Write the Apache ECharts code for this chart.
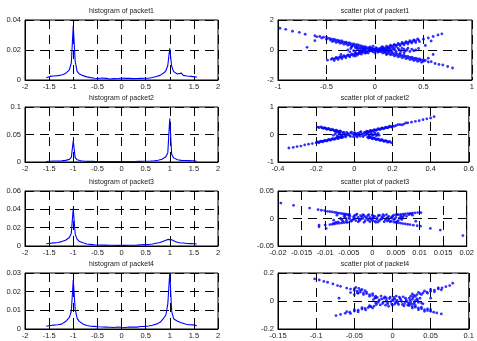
<!DOCTYPE html>
<html>
<head>
<meta charset="utf-8">
<script src="https://cdn.jsdelivr.net/npm/echarts@6/dist/echarts.min.js"></script>
<style>
html, body { margin: 0; padding: 0; background: #fff; }
#chart { width: 477px; height: 341px; }
</style>
</head>
<body>
<div id="chart"></div>
<script>
// bin centres shared by the four histograms
var bins = [
  -1.56, -1.52, -1.48, -1.44, -1.40, -1.36, -1.32, -1.28, -1.24, -1.20,
  -1.16, -1.12, -1.08, -1.04, -1.00, -0.96, -0.92, -0.88, -0.84, -0.80,
  -0.76, -0.72, -0.68, -0.64, -0.60, -0.56, -0.52, -0.48, -0.44, -0.40,
  -0.36, -0.32, -0.28, -0.24, -0.20, -0.16, -0.12, -0.08, -0.04, 0,
  0.04, 0.08, 0.12, 0.16, 0.20, 0.24, 0.28, 0.32, 0.36, 0.40,
  0.44, 0.48, 0.52, 0.56, 0.60, 0.64, 0.68, 0.72, 0.76, 0.80,
  0.84, 0.88, 0.92, 0.96, 1.00, 1.04, 1.08, 1.12, 1.16, 1.20,
  1.24, 1.28, 1.32, 1.36, 1.40, 1.44, 1.48, 1.52, 1.56
]

var hist1 = [
  0.0015, 0.0028, 0.0024, 0.0031, 0.0027, 0.0035, 0.0029, 0.0038, 0.0033, 0.0041,
  0.0044, 0.0052, 0.0068, 0.0115, 0.0362, 0.0125, 0.0058, 0.0042, 0.0034, 0.0029,
  0.0023, 0.0021, 0.0017, 0.0016, 0.0013, 0.0012, 0.0014, 0.0010, 0.0011, 0.0013,
  0.0009, 0.0011, 0.0010, 0.0007, 0.0010, 0.0009, 0.0012, 0.0008, 0.0010, 0.0013,
  0.0009, 0.0011, 0.0008, 0.0012, 0.0010, 0.0009, 0.0011, 0.0010, 0.0012, 0.0011,
  0.0013, 0.0012, 0.0014, 0.0012, 0.0016, 0.0017, 0.0020, 0.0023, 0.0027, 0.0031,
  0.0039, 0.0048, 0.0062, 0.0098, 0.0212, 0.0092, 0.0056, 0.0044, 0.0040, 0.0034,
  0.0046, 0.0031, 0.0033, 0.0027, 0.0030, 0.0024, 0.0027, 0.0021, 0.0019
]
var hist2 = [
  0.0010, 0.0018, 0.0015, 0.0020, 0.0017, 0.0022, 0.0019, 0.0024, 0.0021, 0.0027,
  0.0030, 0.0036, 0.0048, 0.0085, 0.0385, 0.0080, 0.0040, 0.0028, 0.0022, 0.0018,
  0.0015, 0.0013, 0.0012, 0.0010, 0.0011, 0.0009, 0.0010, 0.0008, 0.0009, 0.0010,
  0.0008, 0.0009, 0.0007, 0.0008, 0.0009, 0.0007, 0.0010, 0.0008, 0.0009, 0.0010,
  0.0008, 0.0009, 0.0010, 0.0008, 0.0009, 0.0011, 0.0009, 0.0010, 0.0012, 0.0011,
  0.0013, 0.0012, 0.0015, 0.0016, 0.0018, 0.0021, 0.0024, 0.0028, 0.0033, 0.0040,
  0.0050, 0.0065, 0.0095, 0.0170, 0.0790, 0.0140, 0.0075, 0.0050, 0.0040, 0.0034,
  0.0030, 0.0026, 0.0028, 0.0023, 0.0025, 0.0021, 0.0022, 0.0019, 0.0015
]
var hist3 = [
  0.0025, 0.0033, 0.0030, 0.0036, 0.0034, 0.0040, 0.0038, 0.0045, 0.0048, 0.0055,
  0.0062, 0.0072, 0.0092, 0.0140, 0.0410, 0.0130, 0.0075, 0.0052, 0.0042, 0.0035,
  0.0026, 0.0022, 0.0020, 0.0018, 0.0015, 0.0014, 0.0013, 0.0011, 0.0012, 0.0010,
  0.0009, 0.0010, 0.0008, 0.0009, 0.0007, 0.0008, 0.0009, 0.0007, 0.0008, 0.0009,
  0.0008, 0.0007, 0.0009, 0.0008, 0.0010, 0.0009, 0.0011, 0.0010, 0.0012, 0.0013,
  0.0012, 0.0015, 0.0017, 0.0016, 0.0020, 0.0022, 0.0026, 0.0030, 0.0034, 0.0038,
  0.0045, 0.0055, 0.0060, 0.0072, 0.0092, 0.0068, 0.0055, 0.0046, 0.0040, 0.0036,
  0.0038, 0.0032, 0.0030, 0.0028, 0.0031, 0.0026, 0.0028, 0.0024, 0.0022
]
var hist4 = [
  0.0015, 0.0022, 0.0019, 0.0024, 0.0021, 0.0025, 0.0023, 0.0028, 0.0026, 0.0033,
  0.0040, 0.0050, 0.0062, 0.0095, 0.0262, 0.0105, 0.0058, 0.0042, 0.0033, 0.0027,
  0.0022, 0.0019, 0.0017, 0.0015, 0.0013, 0.0014, 0.0011, 0.0012, 0.0010, 0.0011,
  0.0009, 0.0010, 0.0008, 0.0009, 0.0010, 0.0008, 0.0009, 0.0011, 0.0008, 0.0009,
  0.0010, 0.0008, 0.0009, 0.0011, 0.0009, 0.0010, 0.0012, 0.0010, 0.0011, 0.0013,
  0.0012, 0.0014, 0.0013, 0.0016, 0.0018, 0.0020, 0.0023, 0.0026, 0.0030, 0.0036,
  0.0045, 0.0060, 0.0075, 0.0135, 0.0300, 0.0095, 0.0055, 0.0048, 0.0042, 0.0038,
  0.0034, 0.0030, 0.0027, 0.0025, 0.0023, 0.0021, 0.0022, 0.0019, 0.0018
]

// scatter points [x, y] of each packet
var scatter1 = [
  [-0.98, 1.45], [-0.92, 1.38], [-0.85, 1.25], [-0.78, 1.18], [-0.72, 1.05], [-0.62, 0.95],
  [-0.6, 0.88], [-0.57, 0.9], [-0.55, 0.8], [-0.53, 0.85], [-0.5, 0.72], [-0.48, 0.78],
  [-0.46, 0.66], [-0.44, 0.7], [-0.42, 0.6], [-0.4, 0.65], [-0.38, 0.55], [-0.36, 0.6],
  [-0.34, 0.48], [-0.32, 0.52], [-0.3, 0.42], [-0.28, 0.47], [-0.26, 0.36], [-0.24, 0.4],
  [-0.22, 0.3], [-0.2, 0.35], [-0.18, 0.25], [-0.16, 0.3], [-0.14, 0.18], [-0.12, 0.22],
  [-0.1, 0.12], [-0.08, 0.16], [-0.06, 0.06], [-0.04, 0.1], [-0.02, 0.02], [0.02, -0.05],
  [0.04, -0.02], [0.06, -0.12], [0.08, -0.08], [0.1, -0.18], [0.12, -0.13], [0.14, -0.24],
  [0.16, -0.2], [0.18, -0.3], [0.2, -0.25], [0.22, -0.36], [0.24, -0.31], [0.26, -0.42],
  [0.28, -0.37], [0.3, -0.47], [0.32, -0.42], [0.34, -0.54], [0.36, -0.49], [0.38, -0.6],
  [0.4, -0.55], [0.42, -0.66], [0.44, -0.6], [0.46, -0.7], [0.48, -0.66], [0.5, -0.76],
  [0.52, -0.7], [0.55, -0.8], [0.58, -0.78], [0.62, -0.9], [0.66, -0.96], [0.7, -1.0],
  [0.75, -1.1], [0.8, -1.2],
  [-0.5, 0.86], [-0.46, 0.76], [-0.42, 0.72], [-0.38, 0.64], [-0.34, 0.6], [-0.3, 0.52],
  [-0.26, 0.47], [-0.22, 0.4], [-0.18, 0.35], [-0.14, 0.28], [-0.1, 0.22], [-0.06, 0.16],
  [0.06, -0.02], [0.1, -0.06], [0.14, -0.12], [0.18, -0.18], [0.22, -0.24], [0.26, -0.3],
  [0.3, -0.36], [0.34, -0.42], [0.38, -0.48], [0.42, -0.54], [0.46, -0.6], [0.5, -0.66],
  [-0.44, 0.56], [-0.4, 0.5], [-0.36, 0.45], [-0.32, 0.38], [-0.28, 0.32], [-0.24, 0.26],
  [-0.2, 0.2], [-0.16, 0.14], [-0.12, 0.08], [0.08, -0.2], [0.12, -0.27], [0.16, -0.33],
  [0.2, -0.4], [0.24, -0.46], [0.28, -0.52], [0.32, -0.58], [0.36, -0.64], [0.4, -0.7],
  [0.44, -0.76], [0.48, -0.82],
  [-0.49, -0.68], [-0.45, -0.62], [-0.42, -0.6], [-0.4, -0.55], [-0.38, -0.52], [-0.36, -0.5],
  [-0.34, -0.46], [-0.32, -0.44], [-0.3, -0.42], [-0.28, -0.38], [-0.26, -0.36], [-0.24, -0.32],
  [-0.22, -0.3], [-0.2, -0.27], [-0.18, -0.24], [-0.16, -0.22], [-0.14, -0.18], [-0.12, -0.16],
  [-0.1, -0.12], [-0.08, -0.1], [-0.06, -0.06], [-0.04, -0.05], [0.04, 0.06], [0.06, 0.08],
  [0.08, 0.12], [0.1, 0.14], [0.12, 0.18], [0.14, 0.2], [0.16, 0.24], [0.18, 0.27],
  [0.2, 0.3], [0.22, 0.32], [0.24, 0.36], [0.26, 0.38], [0.28, 0.42], [0.3, 0.44],
  [0.32, 0.48], [0.34, 0.5], [0.36, 0.54], [0.38, 0.56], [0.4, 0.6], [0.42, 0.62],
  [0.45, 0.66], [0.5, 0.72], [0.55, 0.8], [0.6, 0.9], [0.65, 1.0], [0.69, 1.08],
  [-0.44, -0.56], [-0.4, -0.5], [-0.36, -0.44], [-0.32, -0.38], [-0.28, -0.32], [-0.24, -0.26],
  [-0.2, -0.2], [-0.16, -0.14], [-0.12, -0.08], [0.08, 0.2], [0.12, 0.26], [0.16, 0.32],
  [0.2, 0.38], [0.24, 0.44], [0.28, 0.5], [0.32, 0.56], [0.36, 0.62], [0.4, 0.68], [0.44, 0.74],
  [-0.42, -0.7], [-0.38, -0.64], [-0.34, -0.58], [-0.3, -0.52], [-0.26, -0.46], [-0.22, -0.4],
  [-0.18, -0.34], [-0.14, -0.28], [-0.1, -0.22], [0.1, 0.06], [0.14, 0.12], [0.18, 0.18],
  [0.22, 0.22], [0.26, 0.28], [0.3, 0.34], [0.34, 0.4], [0.38, 0.46], [0.42, 0.5], [0.46, 0.56],
  [-0.25, 0.1], [-0.22, -0.05], [-0.2, 0.15], [-0.18, 0.02], [-0.16, -0.12], [-0.15, 0.08],
  [-0.13, -0.03], [-0.12, 0.12], [-0.1, 0.0], [-0.09, -0.15], [-0.08, 0.06], [-0.06, -0.08],
  [-0.05, 0.2], [-0.04, -0.02], [-0.03, 0.1], [-0.02, -0.12], [0, 0.05], [0, -0.05],
  [0.01, 0.15], [0.02, 0.0], [0.03, -0.15], [0.05, 0.1], [0.06, -0.03], [0.07, 0.2],
  [0.09, 0.02], [0.1, -0.1], [0.12, 0.08], [0.13, -0.02], [0.15, 0.12], [0.17, -0.08],
  [0.19, 0.05], [0.21, -0.03], [0.24, 0.1], [0.27, -0.05], [0.3, 0.05], [0.33, 0.0],
  [0.36, -0.1], [0.38, 0.05],
  [-0.28, 0.0], [-0.26, -0.12], [-0.24, 0.2], [-0.2, -0.18], [-0.18, 0.12], [-0.14, -0.06],
  [-0.11, 0.05], [-0.07, -0.2], [-0.05, 0.0], [-0.03, -0.06], [-0.01, 0.08], [0.0, -0.2],
  [0.02, 0.1], [0.04, -0.1], [0.08, 0.05], [0.11, 0.0], [0.14, -0.05], [0.16, 0.05],
  [0.2, 0.1], [0.22, -0.12], [0.25, 0.0], [0.28, 0.12], [0.31, -0.08], [0.34, 0.12],
  [0.4, -0.05], [0.42, 0.0], [0.26, -0.2], [-0.17, -0.25], [-0.02, 0.25], [0.12, -0.3],
  [-0.7, 0.18], [-0.62, 0.62], [-0.35, -0.3], [0.45, 0.1], [0.55, -0.55], [0.6, -0.3],
  [0.58, 0.6], [-0.2, -0.4], [0.3, -0.2], [0.52, 0.3]
]
var scatter2 = [
  [-0.343, -0.49], [-0.32, -0.47], [-0.3, -0.44], [-0.28, -0.42], [-0.26, -0.38], [-0.24, -0.35],
  [-0.22, -0.33], [-0.2, -0.3], [-0.19, -0.28], [-0.18, -0.26], [-0.17, -0.25], [-0.16, -0.24],
  [-0.15, -0.22], [-0.14, -0.21], [-0.13, -0.19], [-0.12, -0.18], [-0.11, -0.16], [-0.1, -0.15],
  [-0.09, -0.13], [-0.08, -0.12], [-0.07, -0.1], [-0.06, -0.09], [0.06, 0.09], [0.07, 0.1],
  [0.08, 0.12], [0.09, 0.13], [0.1, 0.15], [0.11, 0.16], [0.12, 0.18], [0.13, 0.19],
  [0.14, 0.21], [0.15, 0.22], [0.16, 0.24], [0.17, 0.25], [0.18, 0.27], [0.19, 0.28],
  [0.2, 0.3], [0.22, 0.33], [0.24, 0.36], [0.26, 0.38], [0.28, 0.42], [0.3, 0.45],
  [0.32, 0.48], [0.34, 0.5], [0.36, 0.54], [0.38, 0.57], [0.4, 0.6], [0.418, 0.65],
  [-0.195, -0.27], [-0.185, -0.3], [-0.175, -0.24], [-0.165, -0.27], [-0.155, -0.21], [-0.145, -0.24],
  [-0.135, -0.18], [-0.125, -0.21], [-0.115, -0.15], [-0.105, -0.18], [-0.095, -0.12], [-0.085, -0.15],
  [-0.075, -0.09], [-0.065, -0.12], [0.065, 0.12], [0.075, 0.09], [0.085, 0.15], [0.095, 0.12],
  [0.105, 0.18], [0.115, 0.15], [0.125, 0.21], [0.135, 0.18], [0.145, 0.24], [0.155, 0.21],
  [0.165, 0.27], [0.175, 0.24], [0.185, 0.3], [0.195, 0.27], [0.21, 0.3], [0.23, 0.36],
  [0.25, 0.35], [0.27, 0.42],
  [-0.19, 0.27], [-0.17, 0.25], [-0.16, 0.23], [-0.15, 0.22], [-0.14, 0.2], [-0.13, 0.19],
  [-0.12, 0.17], [-0.11, 0.16], [-0.1, 0.14], [-0.09, 0.13], [-0.08, 0.11], [-0.07, 0.1],
  [0.07, -0.1], [0.08, -0.11], [0.09, -0.13], [0.1, -0.14], [0.11, -0.16], [0.12, -0.17],
  [0.13, -0.19], [0.14, -0.2], [0.15, -0.22], [0.16, -0.23], [0.17, -0.25], [0.18, -0.27],
  [0.194, -0.3],
  [-0.185, 0.25], [-0.175, 0.28], [-0.165, 0.23], [-0.155, 0.25], [-0.145, 0.19], [-0.135, 0.22],
  [-0.125, 0.16], [-0.115, 0.19], [-0.105, 0.13], [-0.095, 0.16], [-0.085, 0.1], [-0.075, 0.13],
  [0.075, -0.13], [0.085, -0.1], [0.095, -0.16], [0.105, -0.13], [0.115, -0.19], [0.125, -0.16],
  [0.135, -0.22], [0.145, -0.19], [0.155, -0.25], [0.165, -0.22], [0.175, -0.28], [0.185, -0.25],
  [-0.1, 0.02], [-0.09, -0.05], [-0.08, 0.05], [-0.07, -0.02], [-0.06, 0.06], [-0.05, -0.06],
  [-0.05, 0.02], [-0.04, 0.08], [-0.04, -0.03], [-0.03, 0.0], [-0.02, 0.06], [-0.02, -0.07],
  [-0.01, 0.03], [0, -0.02], [0, 0.07], [0.01, -0.05], [0.01, 0.02], [0.02, 0.05],
  [0.02, -0.02], [0.03, 0.08], [0.03, -0.06], [0.04, 0.01], [0.05, -0.04], [0.05, 0.05],
  [0.06, -0.01], [0.07, 0.04], [0.08, -0.05], [0.09, 0.02], [0.1, -0.02], [0.11, 0.03],
  [0.12, -0.01],
  [-0.11, -0.03], [-0.095, 0.08], [-0.085, -0.08], [-0.075, 0.02], [-0.065, -0.05], [-0.055, 0.09],
  [-0.045, -0.09], [-0.035, 0.04], [-0.025, -0.04], [-0.015, 0.09], [-0.005, -0.08], [0.005, 0.05],
  [0.015, -0.09], [0.025, 0.0], [0.035, 0.1], [0.045, -0.08], [0.055, 0.08], [0.065, 0.02],
  [0.075, -0.07], [0.085, 0.06], [0.095, -0.04], [0.105, 0.07], [0.115, -0.05], [0.125, 0.04],
  [0.13, -0.03]
]
var scatter3 = [
  [-0.0194, 0.028], [-0.0167, 0.024], [-0.0133, 0.019], [-0.0115, 0.016], [-0.0108, 0.015],
  [-0.0101, 0.0145], [-0.0095, 0.013], [-0.009, 0.0125], [-0.0085, 0.012], [-0.008, 0.0112],
  [-0.0076, 0.0105], [-0.0072, 0.0098], [-0.0068, 0.0094], [-0.0064, 0.0088], [-0.006, 0.0082],
  [-0.0056, 0.0078], [-0.0052, 0.0072], [-0.0048, 0.0068],
  [0.0046, -0.0066], [0.005, -0.0072], [0.0055, -0.0078], [0.006, -0.0085], [0.0065, -0.0092],
  [0.007, -0.0098], [0.0075, -0.0105], [0.008, -0.011], [0.0087, -0.0122], [0.0095, -0.0132],
  [0.0102, -0.014], [0.0123, -0.018], [0.0144, -0.021], [0.0192, -0.031],
  [-0.0113, -0.015], [-0.0113, -0.012], [-0.01, -0.012], [-0.009, -0.011], [-0.0085, -0.0105],
  [-0.008, -0.0098], [-0.0075, -0.009], [-0.007, -0.0088], [-0.0065, -0.008], [-0.006, -0.0075],
  [-0.0055, -0.0068],
  [0.005, 0.0068], [0.0055, 0.0072], [0.006, 0.0075], [0.0065, 0.008], [0.007, 0.0085],
  [0.0075, 0.009], [0.008, 0.0095], [0.0085, 0.0098], [0.009, 0.0102], [0.0096, 0.0108],
  [0.0103, 0.0105],
  [-0.006, 0.004], [-0.0055, -0.003], [-0.005, 0.006], [-0.005, 0.001], [-0.0045, -0.005],
  [-0.004, 0.003], [-0.004, -0.001], [-0.0035, 0.006], [-0.0035, -0.004], [-0.003, 0.002],
  [-0.003, -0.006], [-0.0025, 0.005], [-0.0025, -0.002], [-0.002, 0.0], [-0.002, 0.007],
  [-0.0015, -0.004], [-0.0015, 0.003], [-0.001, -0.001], [-0.001, 0.005], [-0.0005, -0.006],
  [-0.0005, 0.002], [0, 0.0], [0, 0.006], [0, -0.003], [0.0005, 0.004], [0.0005, -0.005],
  [0.001, 0.001], [0.001, -0.002], [0.0015, 0.006], [0.0015, -0.004], [0.002, 0.003],
  [0.002, -0.001], [0.0025, 0.005], [0.0025, -0.006], [0.003, 0.0], [0.003, 0.007],
  [0.0035, -0.003], [0.0035, 0.004], [0.004, 0.001], [0.004, -0.005], [0.0045, 0.006],
  [0.0045, -0.002], [0.005, 0.002], [0.0055, -0.004], [0.006, 0.005], [0.006, 0.0],
  [0.0065, 0.003], [-0.0065, -0.002],
  [-0.00675, 0.0], [-0.00625, -0.005], [-0.00575, 0.002], [-0.00525, -0.007], [-0.00475, 0.004],
  [-0.00425, -0.003], [-0.00375, 0.0], [-0.00325, 0.008], [-0.00275, -0.004], [-0.00225, 0.003],
  [-0.00175, -0.007], [-0.00125, 0.001], [-0.00075, 0.007], [-0.00025, -0.002], [0.00025, 0.002],
  [0.00075, -0.007], [0.00125, 0.005], [0.00175, -0.001], [0.00225, 0.007], [0.00275, -0.003],
  [0.00325, 0.002], [0.00375, -0.006], [0.00425, 0.004], [0.00475, -0.001], [0.00525, 0.007],
  [0.00575, 0.001], [0.00625, -0.002], [0.00675, 0.006], [0.00725, 0.004], [0.00775, 0.007],
  [0.00825, 0.008], [-0.00725, -0.006], [-0.00775, -0.007], [-0.00825, -0.009],
  [-0.0058, 0.006], [-0.0048, -0.001], [-0.0038, 0.005], [-0.0028, -0.002], [-0.0018, 0.0055],
  [-0.0008, -0.0035], [0.0002, 0.0045], [0.0012, -0.0065], [0.0022, 0.0015], [0.0032, -0.0045],
  [0.0042, 0.0025], [0.0052, -0.0055], [0.0062, 0.0025],
  [-0.0098, -0.018], [-0.0075, 0.006], [0.0085, 0.006], [0.0092, -0.005], [-0.0082, -0.003]
]
var scatter4 = [
  [-0.102, 0.158], [-0.096, 0.15], [-0.09, 0.14], [-0.085, 0.134], [-0.078, 0.122], [-0.072, 0.11],
  [-0.068, 0.105], [-0.06, 0.092], [-0.055, 0.085], [-0.05, 0.076], [-0.046, 0.07], [-0.042, 0.064],
  [-0.038, 0.058], [-0.034, 0.052], [-0.03, 0.046], [-0.026, 0.04], [-0.022, 0.034],
  [0.022, -0.032], [0.026, -0.038], [0.03, -0.044], [0.034, -0.05], [0.038, -0.056], [0.042, -0.062],
  [0.046, -0.068], [0.05, -0.074], [0.054, -0.08], [0.058, -0.085], [0.064, -0.092],
  [-0.05, 0.088], [-0.046, 0.058], [-0.042, 0.076], [-0.038, 0.046], [-0.034, 0.064], [-0.03, 0.034],
  [-0.026, 0.052], [-0.022, 0.022], [0.022, -0.02], [0.026, -0.05], [0.03, -0.032], [0.034, -0.062],
  [0.038, -0.044], [0.042, -0.074], [0.046, -0.056], [0.05, -0.062],
  [-0.074, -0.104], [-0.068, -0.096], [-0.062, -0.088], [-0.056, -0.08], [-0.05, -0.072],
  [-0.045, -0.066], [-0.04, -0.058], [-0.036, -0.053], [-0.032, -0.047], [-0.028, -0.041],
  [-0.024, -0.036], [0.024, 0.034], [0.028, 0.04], [0.032, 0.046], [0.036, 0.052], [0.04, 0.058],
  [0.045, 0.064], [0.05, 0.07], [0.055, 0.078], [0.06, 0.086], [0.065, 0.094], [0.07, 0.102],
  [0.075, 0.11], [0.079, 0.127],
  [-0.06, -0.076], [-0.055, -0.09], [-0.05, -0.062], [-0.045, -0.078], [-0.04, -0.048], [-0.035, -0.064],
  [-0.03, -0.034], [-0.026, -0.05], [0.026, 0.05], [0.03, 0.034], [0.034, 0.062], [0.038, 0.046],
  [0.042, 0.072], [0.046, 0.056], [0.05, 0.082], [0.055, 0.066], [0.06, 0.094], [0.064, 0.08],
  [-0.048, 0.097], [-0.044, 0.09], [-0.04, 0.082], [-0.036, 0.074], [-0.045, 0.055], [-0.05, 0.045],
  [-0.025, 0.01], [-0.022, -0.015], [-0.02, 0.025], [-0.018, 0.0], [-0.016, -0.028], [-0.014, 0.015],
  [-0.012, -0.008], [-0.01, 0.03], [-0.008, 0.005], [-0.006, -0.02], [-0.004, 0.018], [-0.002, -0.005],
  [0, 0.01], [0, -0.03], [0.002, 0.025], [0.004, -0.012], [0.006, 0.004], [0.008, -0.025],
  [0.01, 0.018], [0.012, -0.004], [0.014, 0.03], [0.016, -0.018], [0.018, 0.008], [0.02, -0.03],
  [0.022, 0.02], [0.024, -0.008], [0.026, 0.012], [0.028, -0.02], [0.03, 0.002], [0.032, 0.015],
  [0.034, -0.01], [-0.015, 0.035], [0.005, 0.035], [-0.005, -0.038], [0.015, -0.035], [-0.008, 0.022],
  [0.003, -0.022], [0.009, 0.028], [-0.019, -0.01], [0.021, -0.015],
  [-0.023, 0.022], [-0.021, -0.025], [-0.017, 0.008], [-0.013, -0.018], [-0.011, 0.02], [-0.007, -0.01],
  [-0.003, 0.028], [-0.001, -0.022], [0.001, 0.002], [0.003, 0.015], [0.007, -0.015], [0.011, 0.008],
  [0.013, -0.025], [0.017, 0.02], [0.019, -0.005], [0.023, 0.004], [0.025, -0.022], [0.027, 0.025],
  [0.029, -0.01], [0.033, 0.006], [0.036, 0.02], [0.038, -0.015], [-0.009, -0.03], [0.005, -0.005],
  [-0.07, 0.02], [-0.055, 0.06], [0.05, 0.02], [0.04, -0.02], [-0.03, -0.04]
]

// tick labels
var histXTicks = [-2, -1.5, -1, -0.5, 0, 0.5, 1, 1.5, 2]
var histYTicks = [[0, 0.02, 0.04], [0, 0.05, 0.1], [0, 0.02, 0.04, 0.06], [0, 0.01, 0.02, 0.03]]
var scatXTicks = [
  [-1, -0.5, 0, 0.5, 1],
  [-0.4, -0.2, 0, 0.2, 0.4, 0.6],
  [-0.02, -0.015, -0.01, -0.005, 0, 0.005, 0.01, 0.015, 0.02],
  [-0.15, -0.1, -0.05, 0, 0.05, 0.1]
]
var scatYTicks = [[-2, 0, 2], [-1, 0, 1], [-0.05, 0, 0.05], [-0.2, 0, 0.2]]

var histTitles = ['histogram of packet1', 'histogram of packet2', 'histogram of packet3', 'histogram of packet4']
var scatTitles = ['scatter plot of packet1', 'scatter plot of packet2', 'scatter plot of packet3', 'scatter plot of packet4']

var hists = [hist1, hist2, hist3, hist4]
var scatters = [scatter1, scatter2, scatter3, scatter4]

// layout of the 4x2 panels
var rowTop = [20, 107, 191, 273]
var rowHeight = [60, 55, 55, 56]
var colLeft = [25, 278]
var colWidth = [193, 194]

var font = 'Liberation Sans, Arial, Helvetica, sans-serif'
var blue = '#0000ff'

function axisFrom(ticks, gridIndex, isX) {
  var step = +(ticks[1] - ticks[0]).toFixed(6)
  return {
    gridIndex: gridIndex,
    type: 'value',
    min: ticks[0],
    max: ticks[ticks.length - 1],
    interval: step,
    axisLine: { show: true, onZero: false, lineStyle: { color: '#000', width: 1 } },
    axisTick: { show: true, inside: true, length: 3, lineStyle: { color: '#000' } },
    axisLabel: {
      color: '#222',
      fontFamily: font,
      fontSize: 7.5,
      margin: isX ? 3 : 4,
      hideOverlap: false,
      showMinLabel: true,
      showMaxLabel: true
    },
    splitLine: { show: true, lineStyle: { color: '#000', width: 1, type: [9, 6] } }
  }
}

var grids = []
var xAxes = []
var yAxes = []
var titles = []
var series = []

for (var r = 0; r < 4; r++) {
  for (var c = 0; c < 2; c++) {
    var idx = grids.length
    grids.push({
      left: colLeft[c],
      top: rowTop[r],
      width: colWidth[c],
      height: rowHeight[r],
      show: true,
      borderColor: '#000',
      borderWidth: 1,
      backgroundColor: 'transparent'
    })
    titles.push({
      text: c === 0 ? histTitles[r] : scatTitles[r],
      left: colLeft[c] + colWidth[c] / 2,
      top: rowTop[r] - 12,
      textAlign: 'center',
      padding: 0,
      textStyle: { fontFamily: font, fontSize: 7, fontWeight: 'normal', color: '#222' }
    })
    if (c === 0) {
      xAxes.push(axisFrom(histXTicks, idx, true))
      yAxes.push(axisFrom(histYTicks[r], idx, false))
      var vals = hists[r]
      series.push({
        type: 'line',
        xAxisIndex: idx,
        yAxisIndex: idx,
        showSymbol: false,
        lineStyle: { color: blue, width: 1.1 },
        data: bins.map(function (x, k) { return [x, vals[k]] })
      })
    } else {
      xAxes.push(axisFrom(scatXTicks[r], idx, true))
      yAxes.push(axisFrom(scatYTicks[r], idx, false))
      series.push({
        type: 'scatter',
        xAxisIndex: idx,
        yAxisIndex: idx,
        symbolSize: 2.8,
        itemStyle: { color: blue },
        data: scatters[r]
      })
    }
  }
}

var chart = echarts.init(document.getElementById('chart'))
chart.setOption({
  animation: false,
  backgroundColor: '#fff',
  title: titles,
  grid: grids,
  xAxis: xAxes,
  yAxis: yAxes,
  series: series
})
</script>
</body>
</html>
